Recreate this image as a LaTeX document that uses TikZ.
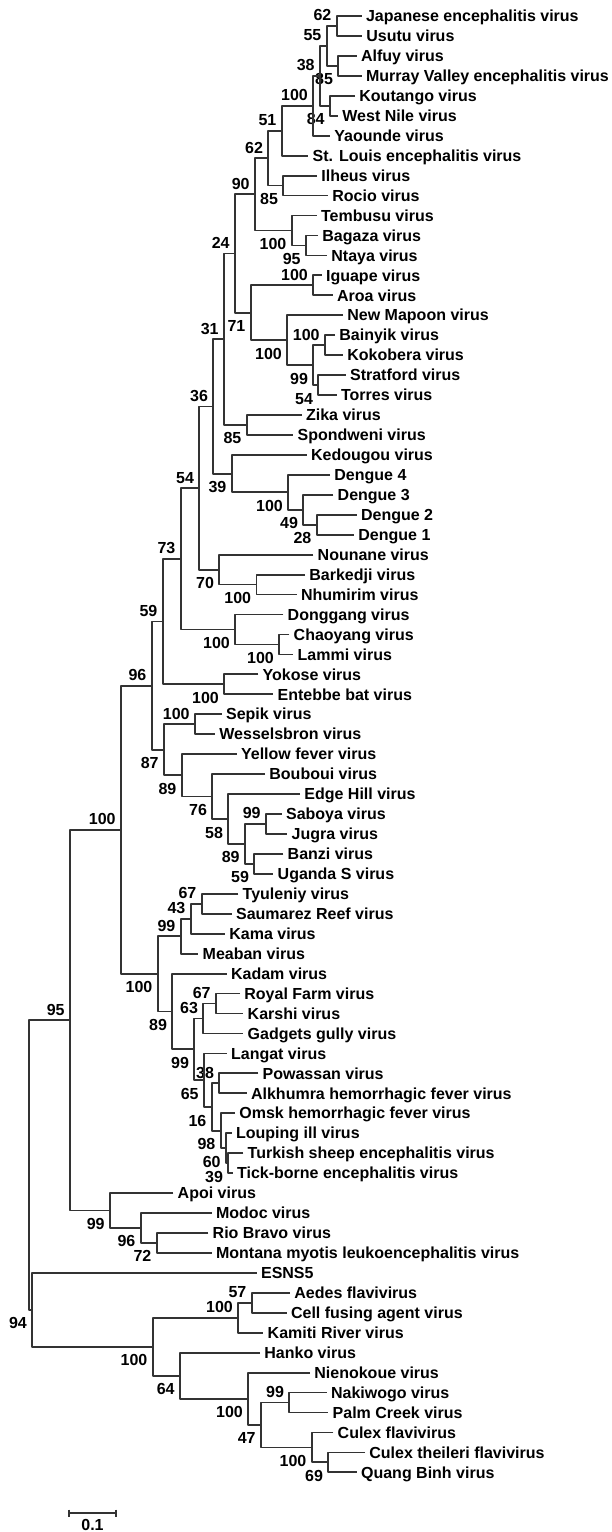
\documentclass[tikz,border=0pt]{standalone}
\usepackage{fontspec}
\setmainfont{Liberation Sans}
\usetikzlibrary{calc}

\begin{document}
\begin{tikzpicture}[x=0.5pt, y=-0.5pt, line join=round,
  branch/.style={line width=0.9pt, black!80},
  taxon/.style={anchor=base west, inner sep=0pt, xshift=2pt, yshift=-2.85pt, font=\bfseries\fontsize{8pt}{9pt}\selectfont},
  boot/.style={anchor=base east, inner sep=0pt, xshift=-2.5pt, font=\bfseries\fontsize{8pt}{9pt}\selectfont},
  bsup/.style={boot, yshift=2.5pt},
  bslo/.style={boot, yshift=-9.5pt}]
\useasboundingbox (0,0) rectangle (611,1532);
% leaves: name / tip x / label
\foreach \n/\x/\t [count=\i] in {
  je/361.7/Japanese encephalitis virus, usu/362/Usutu virus, alf/356.7/Alfuy virus,
  mve/361.7/Murray Valley encephalitis virus, kou/355/Koutango virus, wnv/338/West Nile virus,
  yao/330/Yaounde virus, sle/308.3/St. Louis encephalitis virus, ilh/317/Ilheus virus,
  roc/328/Rocio virus, tmb/316.7/Tembusu virus, bag/318/Bagaza virus, nty/327/Ntaya virus,
  igu/321.7/Iguape virus, aro/332.7/Aroa virus, nmp/343/New Mapoon virus, bai/335/Bainyik virus,
  kok/343/Kokobera virus, str/345.7/Stratford virus, tor/336.7/Torres virus, zik/301.7/Zika virus,
  spo/293.3/Spondweni virus, ked/306.7/Kedougou virus, den4/330/Dengue 4, den3/333.3/Dengue 3,
  den2/356.7/Dengue 2, den1/354/Dengue 1, nou/313.3/Nounane virus, bark/305/Barkedji virus,
  nhu/296.7/Nhumirim virus, don/283.3/Donggang virus, cha/289.3/Chaoyang virus, lam/293.3/Lammi virus,
  yok/258.3/Yokose virus, ent/273.3/Entebbe bat virus, sep/221.7/Sepik virus,
  wes/215/Wesselsbron virus, yf/236.7/Yellow fever virus, bou/265/Bouboui virus,
  edh/300/Edge Hill virus, sab/281.7/Saboya virus, jug/287.3/Jugra virus, ban/283.3/Banzi virus,
  ugs/273.3/Uganda S virus, tyu/238.3/Tyuleniy virus, sre/231.7/Saumarez Reef virus,
  kam/225/Kama virus, mea/198.3/Meaban virus, kad/226.7/Kadam virus, rf/240/Royal Farm virus,
  kar/243.3/Karshi virus, gg/243.3/Gadgets gully virus, lgt/226.7/Langat virus,
  pow/258.3/Powassan virus, alk/246.7/Alkhumra hemorrhagic fever virus,
  omsk/235/Omsk hemorrhagic fever virus, li/231.7/Louping ill virus,
  tse/243.3/Turkish sheep encephalitis virus, tbe/232.7/Tick-borne encephalitis virus,
  apoi/173.3/Apoi virus, mod/211.7/Modoc virus, rb/208.3/Rio Bravo virus,
  mml/211.7/Montana myotis leukoencephalitis virus, esn/256.7/ESNS5, aed/290/Aedes flavivirus,
  cfa/286.7/Cell fusing agent virus, kr/263.3/Kamiti River virus, han/260/Hanko virus,
  nie/310/Nienokoue virus, nak/326.7/Nakiwogo virus, pc/328.3/Palm Creek virus,
  cxf/333.3/Culex flavivirus, ctf/365/Culex theileri flavivirus, qb/356.7/Quang Binh virus} {
  \coordinate (\n) at (\x,{16+(\i-1)*19.95});
  \node[taxon] (\n-t) at (\n) {\t};
}
% clades: name / x / upper child / lower child / bootstrap / label place
\foreach \n/\x/\a/\b/\v/\p in {
  A/336.7/je/usu/62/bsup, B/338.3/alf/mve/85/bslo, C/326.7/A/B/55/bsup,
  D/330/kou/wnv/84/bslo, E/320/C/D/38/bsup, F/313.3/E/yao/100/bsup,
  G/281.7/F/sle/51/bsup, H/283.3/ilh/roc/85/bslo, I/268.3/G/H/62/bsup,
  J/306/bag/nty/95/bslo, K/291.7/tmb/J/100/bslo, L/255/I/K/90/bsup,
  O/313.3/igu/aro/100/bsup, P/325/bai/kok/100/bsup, Q/318.3/str/tor/54/bslo,
  R/313.3/P/Q/99/bslo, S/287.3/nmp/R/100/bslo, T/250.7/O/S/71/bslo,
  M/235/L/T/24/bsup, U/246.7/zik/spo/85/bslo, V/224/M/U/31/bsup,
  W/316.7/den2/den1/28/bslo, X/303.3/den3/W/49/bslo, Y/288.3/den4/X/100/bslo,
  Z/231.7/ked/Y/39/bslo, AA/213.3/V/Z/36/bsup, AC/256.5/bark/nhu/100/bslo,
  AD/219.3/nou/AC/70/bslo, AB/199.3/AA/AD/54/bsup, AE/279.3/cha/lam/100/bslo,
  AF/235.2/don/AE/100/bslo, AG/180.7/AB/AF/73/bsup, AH/224.3/yok/ent/100/bslo,
  AI/162.7/AG/AH/59/bsup, AL/195/sep/wes/100/bsup, AQ/266/sab/jug/99/bsup,
  AR/254.3/ban/ugs/59/bslo, AP/245/AQ/AR/89/bslo, AO/228.3/edh/AP/58/bslo,
  AN/212.3/bou/AO/76/bslo, AM/181.7/yf/AN/89/bslo, AK/164/AL/AM/87/bslo,
  AJ/151.7/AI/AK/96/bsup, AV/201.7/tyu/sre/67/bsup, AW/190.7/AV/kam/43/bsup,
  AX/180.7/AW/mea/99/bsup, BC/216/rf/kar/67/bsup, BA/203.3/BC/gg/63/bsup,
  BH/228.3/tse/tbe/39/bslo, BG/226/li/BH/60/bslo, BF/220.7/omsk/BG/98/bslo,
  BE/219.3/pow/alk/38/bsup, BD/211.7/BE/BF/16/bslo, BB/204/lgt/BD/65/bslo,
  AZ/194.3/BA/BB/99/bslo, AY/172.3/kad/AZ/89/bslo, AS/157.7/AX/AY/100/bslo,
  AT/121/AJ/AS/100/bsup, BK/156.7/rb/mml/72/bslo, BJ/140.7/mod/BK/96/bslo,
  BI/110/apoi/BJ/99/bslo, AU/70/AT/BI/95/bsup, BP/251.7/aed/cfa/57/bsup,
  BN/238.3/BP/kr/100/bsup, BU/328.3/ctf/qb/69/bslo, BT/311.7/cxf/BU/100/bslo,
  BS/289.3/nak/pc/99/bsup, BR/261/BS/BT/47/bslo, BQ/248.3/nie/BR/100/bslo,
  BO/180/han/BQ/64/bslo, BM/152.7/BN/BO/100/bslo, BL/32.3/esn/BM/94/bslo} {
  \path ($(\a)!.5!(\b)$) coordinate (\n-m);
  \coordinate (\n) at (\x,0 |- \n-m);
  \draw[branch] (\a) -| (\n) |- (\b);
  \node[\p] at (\n) {\v};
}
% root
\path ($(AU)!.5!(BL)$) coordinate (root-m);
\coordinate (root) at (29.3,0 |- root-m);
\draw[branch] (AU) -| (root) |- (BL);
% scale bar
\coordinate (sb-l) at (69,1513);
\coordinate (sb-r) at (116,1513);
\draw[branch] (sb-l) -- (sb-r);
\draw[branch] ([yshift=1.75pt]sb-l) -- ([yshift=-1.75pt]sb-l);
\draw[branch] ([yshift=1.75pt]sb-r) -- ([yshift=-1.75pt]sb-r);
\node[anchor=base, inner sep=0pt, font=\bfseries\fontsize{8pt}{9pt}\selectfont] (sb-t) at (92.5,1530) {0.1};
\end{tikzpicture}
\end{document}
